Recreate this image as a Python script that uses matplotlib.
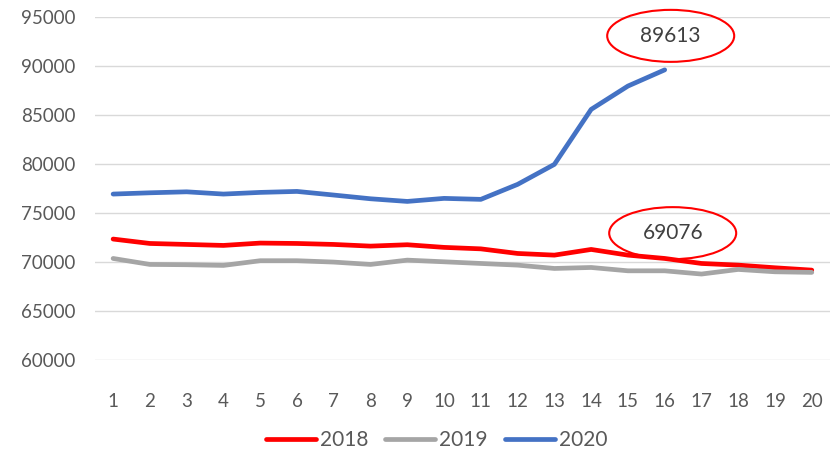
import matplotlib.pyplot as plt
from matplotlib.patches import Ellipse
from matplotlib.transforms import ScaledTranslation

weeks = list(range(1, 21))
y2018 = [72350, 71900, 71800, 71700, 71940, 71900, 71800, 71630, 71770, 71500,
         71350, 70880, 70710, 71290, 70710, 70370, 69860, 69690, 69420, 69180]
y2019 = [70370, 69760, 69730, 69660, 70140, 70140, 70000, 69760, 70200, 70030,
         69860, 69690, 69350, 69450, 69110, 69110, 68780, 69250, 69010, 68950]
y2020 = [76940, 77070, 77170, 76940, 77110, 77210, 76840, 76460, 76190, 76500,
         76400, 77930, 79970, 85580, 87960, 89613]

# label text, anchored week/value, offset of the callout in inches
callouts = [(16, 89613, "89613", 0.06, 0.34), (16, 69076, "69076", 0.08, 0.38)]

plt.rcParams['font.family'] = ['Lato', 'DejaVu Sans']

fig = plt.figure(figsize=(8.31, 4.49), dpi=100)
ax = fig.add_axes([0.114, 0.198, 0.885, 0.764])

ax.plot(weeks, y2018, color='#FF0000', lw=3.4, label='2018', solid_capstyle='round')
ax.plot(weeks, y2019, color='#A5A5A5', lw=3.4, label='2019', solid_capstyle='round')
ax.plot(weeks[:len(y2020)], y2020, color='#4472C4', lw=3.4, label='2020', solid_capstyle='round')

ax.set_xlim(0.5, 20.5)
ax.set_ylim(60000, 95000)
ax.set_yticks(range(60000, 95001, 5000))
ax.set_xticks(weeks)
ax.grid(axis='y', color='#D9D9D9', lw=1)
ax.set_axisbelow(True)
for s in ax.spines.values():
    s.set_visible(False)
ax.tick_params(length=0, labelsize=13.5, colors='#595959')
ax.tick_params(axis='x', pad=24)
ax.tick_params(axis='y', pad=14)

for x, v, txt, dx, dy in callouts:
    trans = fig.dpi_scale_trans + ScaledTranslation(x, v, ax.transData)
    ax.add_patch(Ellipse((dx, dy), 1.27, 0.52, transform=trans, fc='none',
                         ec='#FF0000', lw=1.5, clip_on=False))
    ax.text(dx, dy, txt, transform=trans, ha='center', va='center',
            fontsize=15, color='#404040')

ax.legend(loc='upper center', bbox_to_anchor=(0.465, -0.15), ncol=3, frameon=False,
          fontsize=15, handlelength=2.4, handletextpad=0.2, columnspacing=0.8,
          labelcolor='#595959')

fig.savefig('out.png', dpi=100)
